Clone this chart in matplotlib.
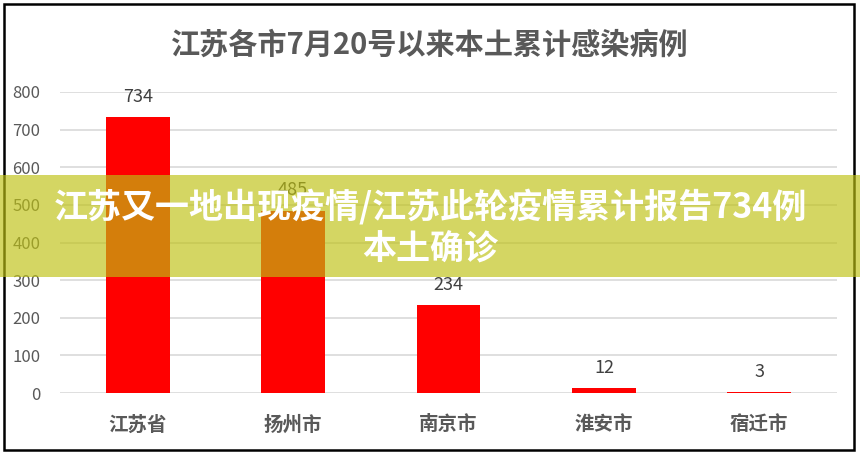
import matplotlib
matplotlib.use("Agg")
import matplotlib.pyplot as plt
from matplotlib.patches import Rectangle

plt.rcParams['font.family'] = ['Noto Sans CJK SC', 'DejaVu Sans']

categories = ["江苏省", "扬州市", "南京市", "淮安市", "宿迁市"]
values = [734, 485, 234, 12, 3]
yticks = [0, 100, 200, 300, 400, 500, 600, 700, 800]
title = "江苏各市7月20号以来本土累计感染病例"
banner = "江苏又一地出现疫情/江苏此轮疫情累计报告734例\n本土确诊"

W, H = 860, 455
fig = plt.figure(figsize=(W / 100, H / 100), dpi=100)
ax = fig.add_axes([60 / W, 1 - 393 / H, 777 / W, 301 / H])

x = list(range(len(categories)))
ax.bar(x, values, width=0.41, color="#ff0000", zorder=3)
ax.set_xlim(-0.5, len(categories) - 0.5)
ax.set_ylim(0, 800)
ax.set_yticks(yticks)
ax.set_yticklabels([str(v) for v in yticks], color="#595959", fontsize=12)
ax.set_xticks(x)
ax.set_xticklabels(categories, color="#595959", fontsize=14, fontweight="bold")
ax.tick_params(axis="both", length=0)
ax.tick_params(axis="y", pad=14)
ax.tick_params(axis="x", pad=16)
ax.grid(axis="y", color="#d9d9d9", linewidth=1.2, zorder=0)
for s in ax.spines.values():
    s.set_visible(False)

for xi, v in zip(x, values):
    ax.annotate(str(v), (xi, v), xytext=(0, 8), textcoords="offset points",
                ha="center", va="bottom", fontsize=13, color="#404040")

fig.text(0.5, 1 - 45 / H, title, ha="center", va="center", fontsize=21,
         fontweight="bold", color="#595959")

# outer border
fig.patches.append(Rectangle((4 / W, 5 / H), 850 / W, 446 / H, transform=fig.transFigure,
                             fill=False, edgecolor="black", linewidth=1.8, zorder=10))

# overlay banner
fig.patches.append(Rectangle((0, 1 - 277 / H), 1, 102 / H, transform=fig.transFigure,
                             facecolor=(190 / 255, 193 / 255, 18 / 255), alpha=0.66,
                             edgecolor="none", zorder=20))
fig.text(0.5, 1 - 228 / H, banner, ha="center", va="center", fontsize=24.5,
         fontweight="heavy", color="white", linespacing=1.25, zorder=30)

fig.savefig("out.png", dpi=100)
